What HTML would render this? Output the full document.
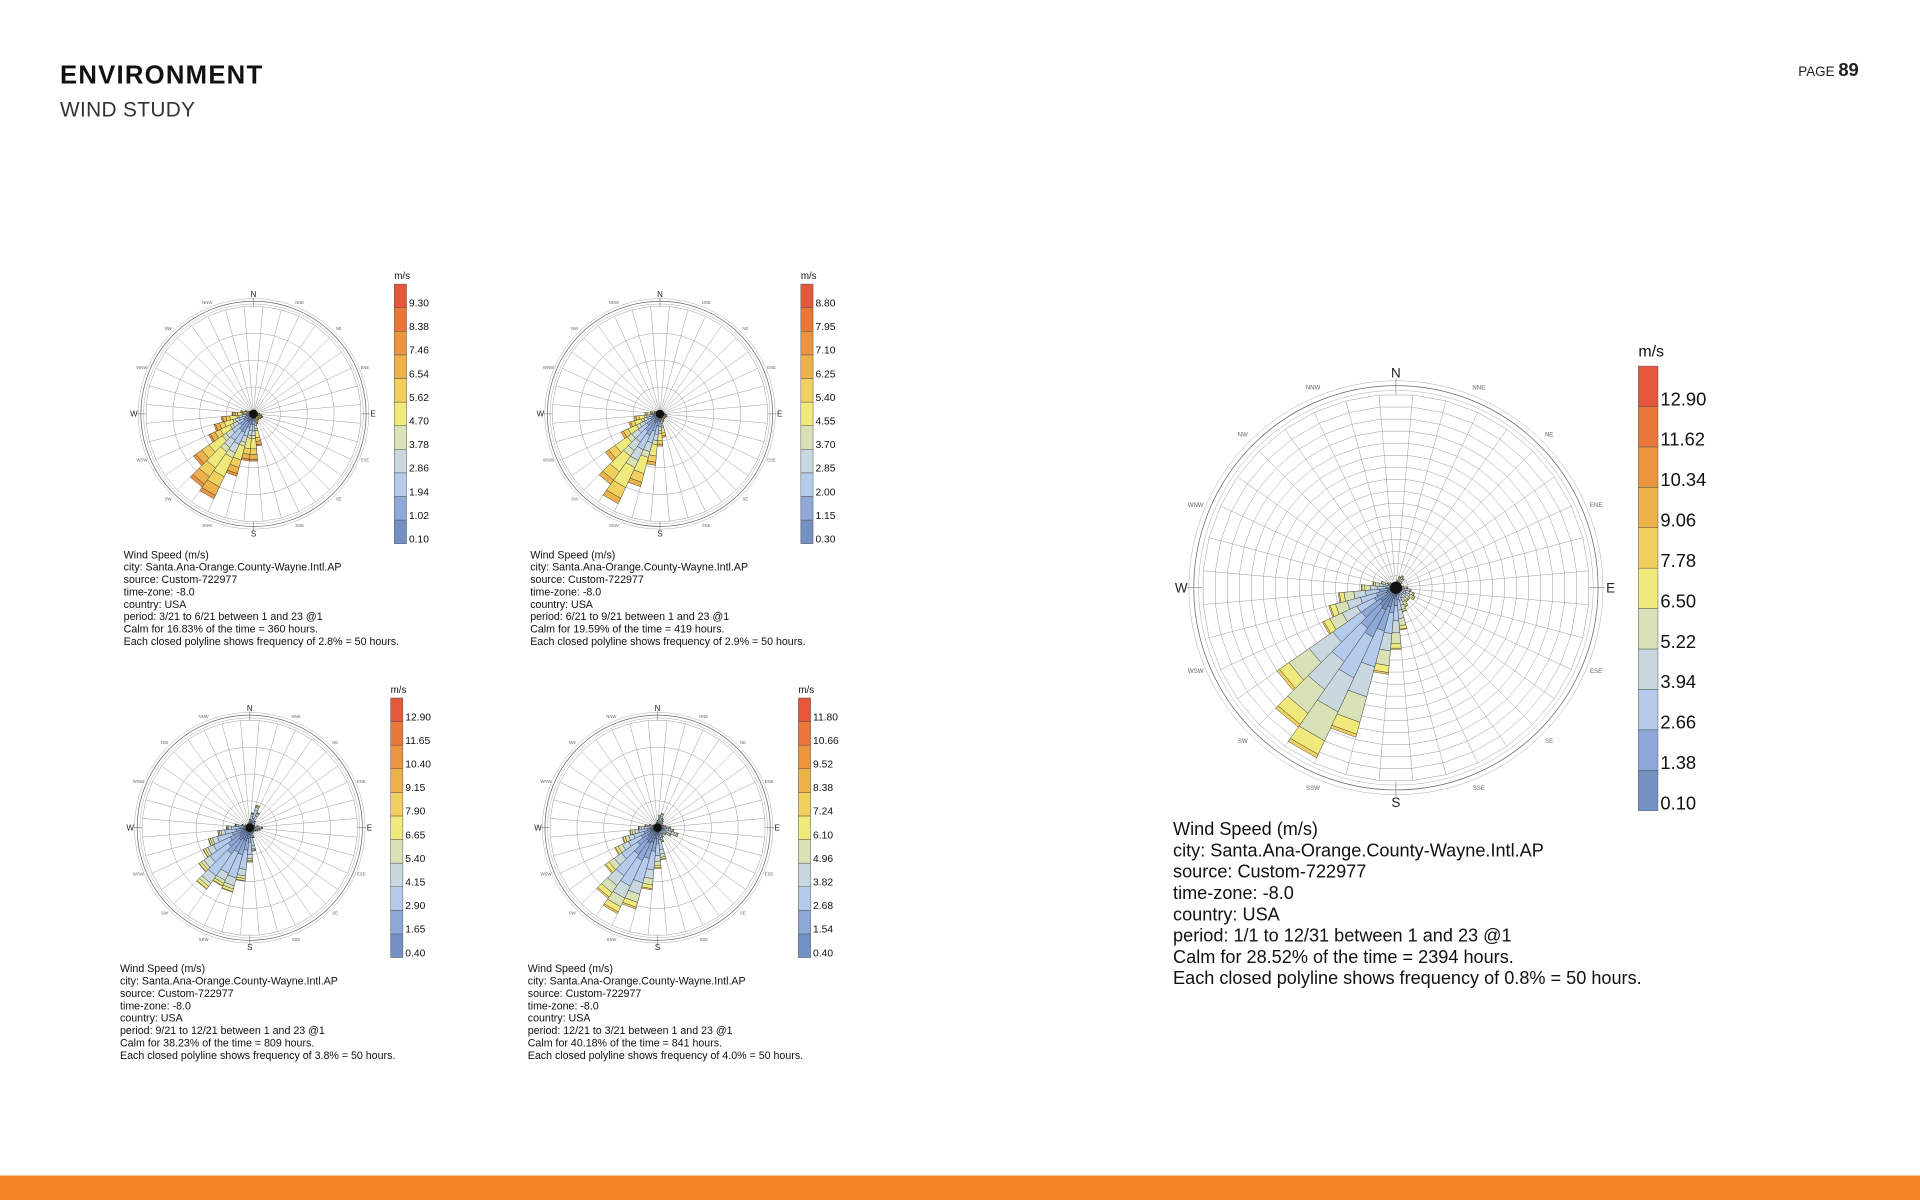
<!DOCTYPE html>
<html><head><meta charset="utf-8"><style>
html,body{margin:0;padding:0;background:#fff;width:1920px;height:1200px;overflow:hidden}
svg{display:block;font-family:"Liberation Sans",sans-serif}
</style></head><body>
<svg id="page" width="1920" height="1200" viewBox="0 0 1568 980" xmlns="http://www.w3.org/2000/svg">
<text x="49" y="68" font-size="21" font-weight="bold" letter-spacing="1" fill="#111">ENVIRONMENT</text>
<text x="49" y="95" font-size="17" letter-spacing="0.3" fill="#333">WIND STUDY</text>
<text x="1518" y="62" text-anchor="end" font-size="11" fill="#222">PAGE <tspan font-size="15" font-weight="bold">89</tspan></text>
<rect x="0" y="960" width="1568" height="20" fill="#f58220"/>
<g id="roses"></g>
</svg>
<script>
// 36 directions, bearing degrees
const directions = [0,10,20,30,40,50,60,70,80,90,100,110,120,130,140,150,160,170,180,190,200,210,220,230,240,250,260,270,280,290,300,310,320,330,340,350];
// totals as % of outer grid ring per direction
const annualTotals = [3,4,6,7,6,4,3,3,4,6,8,10,11,9,9,11,13,22,32,45,80,97,88,75,42,36,30,18,12,8,5,4,3,3,3,3];
const springTotals = [3,3,4,4,3,3,3,3,4,6,8,9,8,7,7,8,10,30,44,44,60,87,83,68,46,38,30,20,12,8,5,4,3,3,3,3];
const summerTotals = [3,3,3,3,3,3,3,3,4,5,6,7,6,6,6,7,8,22,30,48,70,92,80,62,40,30,24,14,9,6,4,3,3,3,3,3];
const fallTotals = [8,14,22,16,8,6,5,5,8,12,10,8,6,5,5,6,10,22,32,50,62,60,70,58,48,40,30,22,14,8,5,4,4,4,4,5];
const winterTotals = [7,12,14,10,8,6,5,6,8,12,15,20,14,10,8,10,14,30,38,58,78,88,80,60,44,34,26,18,12,8,5,4,4,4,4,5];
// share of each speed bin (low -> high)
const annualShares = [0.13,0.16,0.24,0.2,0.17,0.08,0.02,0,0,0,0];
const springShares = [0.1,0.12,0.14,0.1,0.06,0.22,0.12,0.1,0.04,0,0];
const summerShares = [0.1,0.14,0.16,0.12,0.08,0.22,0.12,0.06,0,0,0];
const fallShares = [0.2,0.22,0.36,0.12,0.05,0.04,0.01,0,0,0,0];
const winterShares = [0.18,0.2,0.3,0.14,0.1,0.06,0.02,0,0,0,0];
// legend tick labels (bottom -> top)
const annualTicks = ["0.10","1.38","2.66","3.94","5.22","6.50","7.78","9.06","10.34","11.62","12.90"];
const springTicks = ["0.10","1.02","1.94","2.86","3.78","4.70","5.62","6.54","7.46","8.38","9.30"];
const summerTicks = ["0.30","1.15","2.00","2.85","3.70","4.55","5.40","6.25","7.10","7.95","8.80"];
const fallTicks = ["0.40","1.65","2.90","4.15","5.40","6.65","7.90","9.15","10.40","11.65","12.90"];
const winterTicks = ["0.40","1.54","2.68","3.82","4.96","6.10","7.24","8.38","9.52","10.66","11.80"];

const binColors = ["#7391c2","#8ea9d8","#b4cbeb","#c9d7df","#d9e1b6","#f0e97c","#f2d05f","#eeb24a","#eb9541","#e9773a","#e5573a"];
const dirLabels = ["N","NNE","NE","ENE","E","ESE","SE","SSE","S","SSW","SW","WSW","W","WNW","NW","NNW"];
const NS = "http://www.w3.org/2000/svg";
const root = document.getElementById('roses');

function mk(tag, attrs, parent){
  const e = document.createElementNS(NS, tag);
  for (const k in attrs) e.setAttribute(k, attrs[k]);
  (parent||root).appendChild(e);
  return e;
}
function pt(cx, cy, r, bearing){
  const a = bearing*Math.PI/180;
  return [cx + r*Math.sin(a), cy - r*Math.cos(a)];
}

function drawRose(cfg){
  const g = mk('g', {});
  
  
  const {cx, cy, R, rings, big} = cfg;
  const rScale = v => v/100*R;
  [R*1.02, R*1.045, R*1.07].forEach((rr,i)=>{
    const c = mk('circle', {cx, cy, r: rr, fill:'none', stroke: i==1?'#666':'#aaa', 'stroke-width': i==1?0.6:0.4}, g);
    
    
  });
  for (let k=1;k<=rings;k++){
    const rr = R*k/rings;
    const pts = directions.map(d=>pt(cx,cy,rr,d+5).join(',')).join(' ');
    const p = mk('polygon', {points: pts, fill:'none', stroke:'#999', 'stroke-width':0.4}, g);
    
    
  }
  directions.forEach(d=>{
    const a = pt(cx,cy,R*0.04,d+5), b = pt(cx,cy,R,d+5);
    const l = mk('line', {x1:a[0],y1:a[1],x2:b[0],y2:b[1],stroke:'#999','stroke-width':0.4}, g);
    
    
  });
  directions.forEach((d,i)=>{
    const tot = cfg.totals[i];
    let acc = 0;
    cfg.shares.forEach((s,b)=>{
      if (s<=0) return;
      const r0 = rScale(acc*tot), r1 = rScale((acc+s)*tot);
      acc += s;
      const p0 = pt(cx,cy,r0,d-5), p1 = pt(cx,cy,r1,d-5), p2 = pt(cx,cy,r1,d+5), p3 = pt(cx,cy,r0,d+5);
      const w = mk('polygon', {points:[p0,p1,p2,p3].map(q=>q.join(',')).join(' '), fill: binColors[b], stroke:'#333', 'stroke-width':0.35}, g);
      
      
    });
  });
  const dot = mk('circle', {cx, cy, r: big?5:3.5, fill:'#111'}, g);
  
  
  dirLabels.forEach((lab,i)=>{
    const bearing = i*22.5;
    const main = i%4==0;
    const rr = main ? R*1.11 : R*1.12;
    const q = pt(cx,cy,rr,bearing);
    const fs = main ? (big?11:6.5) : (big?5:3.5);
    const t = mk('text', {x:q[0], y:q[1]+fs*0.35, 'text-anchor':'middle', 'font-size':fs, fill: main?'#222':'#666'}, g);
    t.textContent = lab;
    
    
    if (main){
      const a = pt(cx,cy,R*1.0,bearing), b = pt(cx,cy,R*1.08,bearing);
      const tk = mk('line', {x1:a[0],y1:a[1],x2:b[0],y2:b[1],stroke:'#777','stroke-width':0.5}, g);
      
      
    }
  });
  const L = cfg.legend;
  const bandH = (L.bottom - L.top)/11;
  for (let b=0;b<11;b++){
    const y = L.bottom - (b+1)*bandH;
    const r = mk('rect', {x:L.x, y, width:L.w, height:bandH, fill: binColors[b], stroke:'#555', 'stroke-width':0.4}, g);
    
    
    const t = mk('text', {x:L.x+L.w+2, y: L.bottom - b*bandH - 1, 'font-size':L.fs, fill:'#111'}, g);
    t.textContent = cfg.ticks[b];
    
    
  }
  const u = mk('text', {x:L.x, y:L.top - (big?8:4), 'font-size': big?13:8, fill:'#111'}, g);
  u.textContent = 'm/s';
  
  
  cfg.caption.forEach((line,i)=>{
    const t = mk('text', {x:cfg.tx, y:cfg.ty + i*cfg.lh, 'font-size':cfg.tfs, fill:'#111'}, g);
    t.textContent = line;
    
    
  });
}

function caption(period, calm, freq){
  return ["Wind Speed (m/s)","city: Santa.Ana-Orange.County-Wayne.Intl.AP","source: Custom-722977","time-zone: -8.0","country: USA",
    "period: "+period+" between 1 and 23 @1", calm, "Each closed polyline shows frequency of "+freq+" = 50 hours."];
}

drawRose({name:'spring-wind-rose', cx:207, cy:338, R:88, rings:4, big:false, totals:springTotals, shares:springShares, ticks:springTicks,
  legend:{x:322,w:10,top:232,bottom:444,fs:8.4}, tx:101, ty:456, lh:10.1, tfs:8.7,
  caption:caption("3/21 to 6/21","Calm for 16.83% of the time = 360 hours.","2.8%")});
drawRose({name:'summer-wind-rose', cx:539, cy:338, R:88, rings:4, big:false, totals:summerTotals, shares:summerShares, ticks:summerTicks,
  legend:{x:654,w:10,top:232,bottom:444,fs:8.4}, tx:433, ty:456, lh:10.1, tfs:8.7,
  caption:caption("6/21 to 9/21","Calm for 19.59% of the time = 419 hours.","2.9%")});
drawRose({name:'fall-wind-rose', cx:204, cy:676, R:88, rings:4, big:false, totals:fallTotals, shares:fallShares, ticks:fallTicks,
  legend:{x:319,w:10,top:570,bottom:782,fs:8.4}, tx:98, ty:794, lh:10.1, tfs:8.7,
  caption:caption("9/21 to 12/21","Calm for 38.23% of the time = 809 hours.","3.8%")});
drawRose({name:'winter-wind-rose', cx:537, cy:676, R:88, rings:4, big:false, totals:winterTotals, shares:winterShares, ticks:winterTicks,
  legend:{x:652,w:10,top:570,bottom:782,fs:8.4}, tx:431, ty:794, lh:10.1, tfs:8.7,
  caption:caption("12/21 to 3/21","Calm for 40.18% of the time = 841 hours.","4.0%")});
drawRose({name:'annual-wind-rose', cx:1140, cy:480, R:158, rings:16, big:true, totals:annualTotals, shares:annualShares, ticks:annualTicks,
  legend:{x:1338,w:16,top:299,bottom:662,fs:15}, tx:958, ty:682, lh:17.4, tfs:14.8,
  caption:caption("1/1 to 12/31","Calm for 28.52% of the time = 2394 hours.","0.8%")});
</script>
</body></html>
